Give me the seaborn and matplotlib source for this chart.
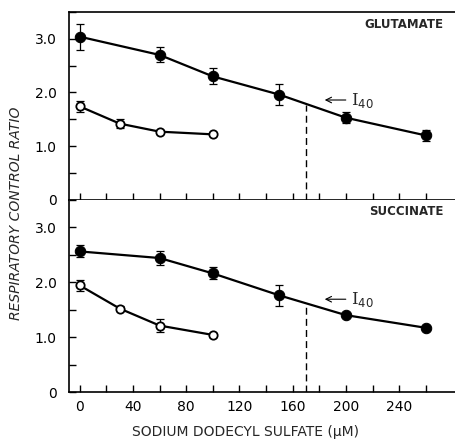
import numpy as np
import pandas as pd
import matplotlib
matplotlib.use("Agg")
import matplotlib.pyplot as plt
import seaborn as sns
from matplotlib.ticker import MultipleLocator

# ---- data ----
glu_filled_x = [0, 60, 100, 150, 200, 260]
glu_filled_y = [3.04, 2.70, 2.30, 1.96, 1.53, 1.20]
glu_filled_err = [0.24, 0.14, 0.15, 0.20, 0.10, 0.11]
glu_open_x = [0, 30, 60, 100]
glu_open_y = [1.74, 1.42, 1.27, 1.22]
glu_open_err = [0.10, 0.08, 0.03, 0.02]

suc_filled_x = [0, 60, 100, 150, 200, 260]
suc_filled_y = [2.56, 2.44, 2.16, 1.76, 1.40, 1.17]
suc_filled_err = [0.11, 0.12, 0.11, 0.19, 0.04, 0.04]
suc_open_x = [0, 30, 60, 100]
suc_open_y = [1.94, 1.52, 1.21, 1.04]
suc_open_err = [0.10, 0.04, 0.12, 0.04]

i40_x = 170
glu_i40_y = 1.77
suc_i40_y = 1.60

panel_names = ["GLUTAMATE", "SUCCINATE"]
x_ticks = [0, 40, 80, 120, 160, 200, 240]
x_minor = [20, 60, 100, 140, 180, 220, 260]
y_ticks = [0, 1, 2, 3]
y_tick_labels = ["0", "1.0", "2.0", "3.0"]

sns.set_style("ticks")
plt.rcParams['font.family'] = ['DejaVu Sans']

fig = plt.figure(figsize=(4.55, 4.45), dpi=100)
ax1 = fig.add_axes([0.152, 0.551, 0.848, 0.422])
ax2 = fig.add_axes([0.152, 0.119, 0.848, 0.432])

panels = [
    (ax1, glu_filled_x, glu_filled_y, glu_filled_err, glu_open_x, glu_open_y, glu_open_err, glu_i40_y),
    (ax2, suc_filled_x, suc_filled_y, suc_filled_err, suc_open_x, suc_open_y, suc_open_err, suc_i40_y),
]

for i, (ax, fx, fy, fe, ox, oy, oe, iy) in enumerate(panels):
    df_f = pd.DataFrame({"x": fx, "y": fy})
    df_o = pd.DataFrame({"x": ox, "y": oy})
    ax.errorbar(fx, fy, yerr=fe, fmt="none", ecolor="black", elinewidth=0.9, capsize=3, capthick=0.9, zorder=2)
    ax.errorbar(ox, oy, yerr=oe, fmt="none", ecolor="black", elinewidth=0.9, capsize=3, capthick=0.9, zorder=2)
    sns.lineplot(data=df_f, x="x", y="y", ax=ax, color="black", lw=1.6, marker="o",
                 markersize=7.5, markerfacecolor="black", markeredgecolor="black", zorder=3)
    sns.lineplot(data=df_o, x="x", y="y", ax=ax, color="black", lw=1.6, marker="o",
                 markersize=6, markerfacecolor="white", markeredgecolor="black", markeredgewidth=1.3, zorder=3)
    ax.plot([i40_x, i40_x], [0, iy], ls=(0, (5, 3)), color="black", lw=1.0)
    ax.annotate("", xy=(182, iy + 0.09), xytext=(202, iy + 0.09),
                arrowprops=dict(arrowstyle="->", color="black", lw=0.8))
    ax.text(204, iy + 0.08, r"I$_{40}$", fontsize=12, va="center", ha="left", family="DejaVu Serif")
    ax.text(0.969, 0.97 if i == 0 else 0.975, panel_names[i], transform=ax.transAxes,
            ha="right", va="top", fontsize=8.5, fontweight="bold")
    ax.set_xlim(-8, 282)
    ax.set_ylim(0, 3.5)
    ax.set_xticks(x_ticks)
    ax.set_xticks(x_minor, minor=True)
    ax.set_yticks(y_ticks)
    ax.yaxis.set_minor_locator(MultipleLocator(0.5))
    ax.set_yticklabels(y_tick_labels, fontsize=10)
    ax.tick_params(axis="both", which="both", direction="in", length=5, width=1.0, colors="black")
    ax.tick_params(axis="y", which="major", pad=9)
    ax.set_xlabel("")
    ax.set_ylabel("")
    ax.spines["right"].set_visible(False)
    for s in ["left", "bottom", "top"]:
        ax.spines[s].set_linewidth(1.2)
        ax.spines[s].set_color("black")

ax1.set_xticklabels([])
ax2.set_xticklabels([str(t) for t in x_ticks], fontsize=10)
ax2.tick_params(axis="x", which="major", pad=6)
ax2.spines["top"].set_visible(False)

fig.text(0.035, 0.52, "RESPIRATORY CONTROL RATIO", rotation=90, ha="center", va="center",
         fontsize=10, style="italic")
fig.text(0.54, 0.03, "SODIUM DODECYL SULFATE (\u03bcM)", ha="center", va="center", fontsize=10)

fig.savefig("out.png", dpi=100)
